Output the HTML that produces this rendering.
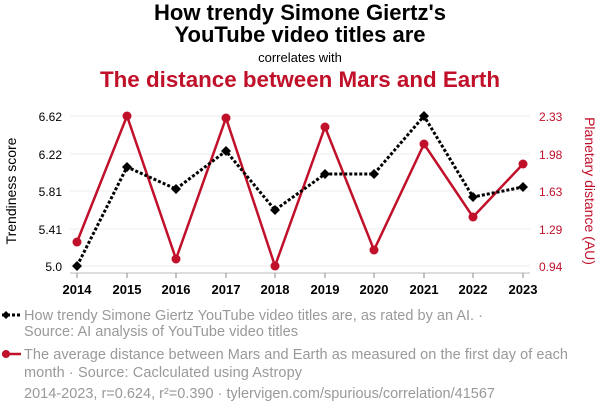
<!DOCTYPE html>
<html><head><style>
body{margin:0;width:600px;height:414px;background:#fff;font-family:"Liberation Sans",sans-serif;overflow:hidden}
</style></head><body>
<svg width="600" height="414" xmlns="http://www.w3.org/2000/svg" font-family="Liberation Sans, sans-serif">
<text x="300" y="20" text-anchor="middle" font-size="22" font-weight="bold" fill="#000" textLength="292" lengthAdjust="spacingAndGlyphs">How trendy Simone Giertz's</text>
<text x="300" y="42" text-anchor="middle" font-size="22" font-weight="bold" fill="#000">YouTube video titles are</text>
<text x="300" y="62" text-anchor="middle" font-size="13" fill="#000">correlates with</text>
<text x="300" y="87" text-anchor="middle" font-size="22" font-weight="bold" fill="#c0102a" textLength="400" lengthAdjust="spacingAndGlyphs">The distance between Mars and Earth</text>
<g stroke="#eee" stroke-width="1">
<line x1="70" x2="530" y1="116" y2="116"/><line x1="70" x2="530" y1="154" y2="154"/><line x1="70" x2="530" y1="191" y2="191"/><line x1="70" x2="530" y1="229" y2="229"/><line x1="70" x2="530" y1="266" y2="266"/>
</g>
<line x1="70" x2="530" y1="273" y2="273" stroke="#bbb"/>
<g stroke="#888"><line x1="77" x2="77" y1="273" y2="278"/><line x1="127" x2="127" y1="273" y2="278"/><line x1="176" x2="176" y1="273" y2="278"/><line x1="226" x2="226" y1="273" y2="278"/><line x1="275" x2="275" y1="273" y2="278"/><line x1="325" x2="325" y1="273" y2="278"/><line x1="374" x2="374" y1="273" y2="278"/><line x1="424" x2="424" y1="273" y2="278"/><line x1="473" x2="473" y1="273" y2="278"/><line x1="523" x2="523" y1="273" y2="278"/></g>
<g font-size="13" font-weight="bold" text-anchor="middle" fill="#000">
<text x="77" y="294">2014</text><text x="127" y="294">2015</text><text x="176" y="294">2016</text><text x="226" y="294">2017</text><text x="275" y="294">2018</text><text x="325" y="294">2019</text><text x="374" y="294">2020</text><text x="424" y="294">2021</text><text x="473" y="294">2022</text><text x="523" y="294">2023</text>
</g>
<g font-size="12" text-anchor="end" fill="#000">
<text x="62" y="121">6.62</text><text x="62" y="159">6.22</text><text x="62" y="196">5.81</text><text x="62" y="234">5.41</text><text x="62" y="271">5.0</text>
</g>
<g font-size="12" fill="#c0102a">
<text x="539" y="121">2.33</text><text x="539" y="159">1.98</text><text x="539" y="196">1.63</text><text x="539" y="234">1.29</text><text x="539" y="271">0.94</text>
</g>
<text transform="translate(16,191) rotate(-90)" text-anchor="middle" font-size="14" fill="#000">Trendiness score</text>
<text transform="translate(585,191) rotate(90)" text-anchor="middle" font-size="14" fill="#c0102a">Planetary distance (AU)</text>
<polyline fill="none" stroke="#c0102a" stroke-width="2.5" points="77,242 127,116 176,259 226,118 275,266 325,127 374,250 424,144 473,217 523,164"/>
<g fill="#c0102a"><circle cx="77" cy="242" r="4.5"/><circle cx="127" cy="116" r="4.5"/><circle cx="176" cy="259" r="4.5"/><circle cx="226" cy="118" r="4.5"/><circle cx="275" cy="266" r="4.5"/><circle cx="325" cy="127" r="4.5"/><circle cx="374" cy="250" r="4.5"/><circle cx="424" cy="144" r="4.5"/><circle cx="473" cy="217" r="4.5"/><circle cx="523" cy="164" r="4.5"/></g>
<polyline fill="none" stroke="#000" stroke-width="3" stroke-dasharray="3,2" points="77,266 127,167 176,189 226,151 275,210 325,174 374,174 424,116 473,197 523,187"/>
<g fill="#000">
<path d="M77 261l5 5-5 5-5-5z"/><path d="M127 162l5 5-5 5-5-5z"/><path d="M176 184l5 5-5 5-5-5z"/><path d="M226 146l5 5-5 5-5-5z"/><path d="M275 205l5 5-5 5-5-5z"/><path d="M325 169l5 5-5 5-5-5z"/><path d="M374 169l5 5-5 5-5-5z"/><path d="M424 111l5 5-5 5-5-5z"/><path d="M473 192l5 5-5 5-5-5z"/><path d="M523 182l5 5-5 5-5-5z"/>
</g>
<line x1="2" x2="21" y1="315" y2="315" stroke="#000" stroke-width="3" stroke-dasharray="3,2"/>
<path d="M6 311l4 4-4 4-4-4z" fill="#000"/>
<g font-size="14.5" fill="#999" lengthAdjust="spacingAndGlyphs">
<text x="24" y="320" textLength="459">How trendy Simone Giertz YouTube video titles are, as rated by an AI. ·</text>
<text x="24" y="336" textLength="274">Source: AI analysis of YouTube video titles</text>
<text x="24" y="359" textLength="544">The average distance between Mars and Earth as measured on the first day of each</text>
<text x="24" y="377" textLength="278">month · Source: Caclculated using Astropy</text>
<text x="24" y="398" textLength="471">2014-2023, r=0.624, r²=0.390 · tylervigen.com/spurious/correlation/41567</text>
</g>
<line x1="2" x2="21" y1="354" y2="354" stroke="#c0102a" stroke-width="2.5"/>
<circle cx="6" cy="354" r="4" fill="#c0102a"/>
</svg>
</body></html>
